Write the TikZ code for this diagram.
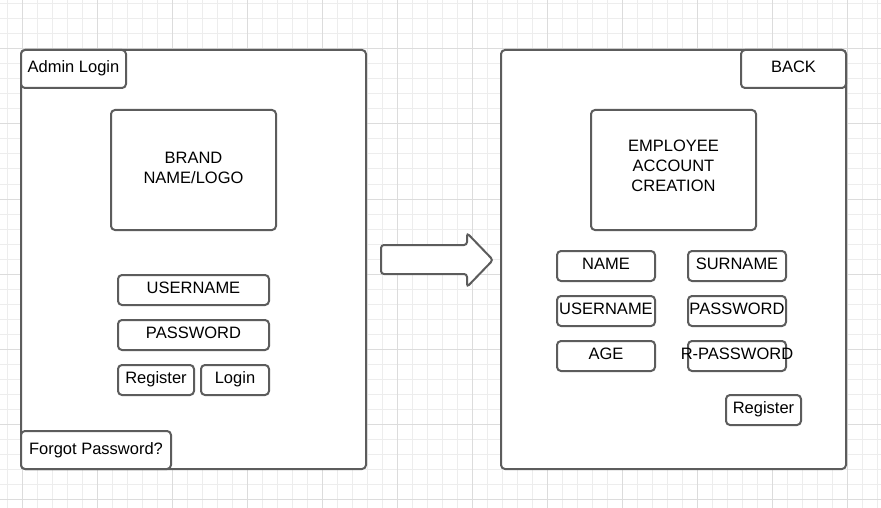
\documentclass[tikz,border=0pt]{standalone}
\usepackage{fontspec}
\setmainfont{Liberation Sans}
\definecolor{edgegrey}{HTML}{5C5C5C}
\definecolor{gridminor}{HTML}{EDEDED}
\definecolor{gridmajor}{HTML}{DCDCDC}
\begin{document}
\begin{tikzpicture}[x=1pt, y=-1pt,
  panel/.style={draw=edgegrey, line width=2pt, rounded corners=4pt, fill=white, inner sep=0pt, outer sep=0pt, anchor=north west},
  field/.style={panel, font=\fontsize{16.5}{20}\selectfont, text height=11pt, text depth=5pt},
  tag/.style={field, text depth=3pt},
  boxtext/.style={align=center, font=\fontsize{16.5}{20}\selectfont},
  minorline/.style={draw=gridminor, line width=1pt},
  majorline/.style={draw=gridmajor, line width=1pt}]
\useasboundingbox (0,0) rectangle (881,508);
\fill[white] (0,0) rectangle (881,508);
% background grid
\foreach \gx in {7,22,...,877} \draw[minorline] (\gx,0) -- (\gx,508);
\foreach \gy in {4,19,...,504} \draw[minorline] (0,\gy) -- (881,\gy);
\foreach \gx in {22,97,...,847} \draw[majorline] (\gx,0) -- (\gx,508);
\foreach \gy in {49,124,...,499} \draw[majorline] (0,\gy) -- (881,\gy);
% login screen
\node[panel, minimum width=345pt, minimum height=419pt] (login) at (21,50) {};
\node[tag, minimum width=105pt, minimum height=38pt] (admin) at (21,50) {Admin Login};
\node[panel, minimum width=165pt, minimum height=120pt, label={[boxtext, yshift=2pt]center:BRAND\\NAME/LOGO}] (brand) at (111,110) {};
\node[field, minimum width=151pt, minimum height=30pt] (user) at (118,275) {USERNAME};
\node[field, minimum width=151pt, minimum height=30pt] (pass) at (118,320) {PASSWORD};
\node[field, minimum width=76pt, minimum height=30pt] (reg) at (118,365) {Register};
\node[field, minimum width=68pt, minimum height=30pt] (log) at (201,365) {Login};
\node[tag, minimum width=150pt, minimum height=38pt] (forgot) at (21,431) {Forgot Password?};
% block arrow
\draw[draw=edgegrey, line width=2pt, fill=white, rounded corners=3pt] (381,245) -- (467,245) -- (467,233) -- (493,260) -- (467,287) -- (467,274) -- (381,274) -- cycle;
% account creation screen
\node[panel, minimum width=345pt, minimum height=419pt] (create) at (501,50) {};
\node[tag, minimum width=105pt, minimum height=38pt] (back) at (741,50) {BACK};
\node[panel, minimum width=165pt, minimum height=120pt, label={[boxtext, yshift=4pt]center:EMPLOYEE\\ACCOUNT\\CREATION}] (employee) at (591,110) {};
\node[field, minimum width=98pt, minimum height=30pt] (name) at (557,251) {NAME};
\node[field, minimum width=98pt, minimum height=30pt] (surname) at (688,251) {SURNAME};
\node[field, minimum width=98pt, minimum height=30pt] (newuser) at (557,296) {USERNAME};
\node[field, minimum width=98pt, minimum height=30pt] (newpass) at (688,296) {PASSWORD};
\node[field, minimum width=98pt, minimum height=30pt] (age) at (557,341) {AGE};
\node[field, minimum width=98pt, minimum height=30pt] (repass) at (688,341) {\makebox[0pt]{R-PASSWORD}};
\node[field, minimum width=75pt, minimum height=30pt] (newreg) at (726,395) {Register};
\end{tikzpicture}
\end{document}
